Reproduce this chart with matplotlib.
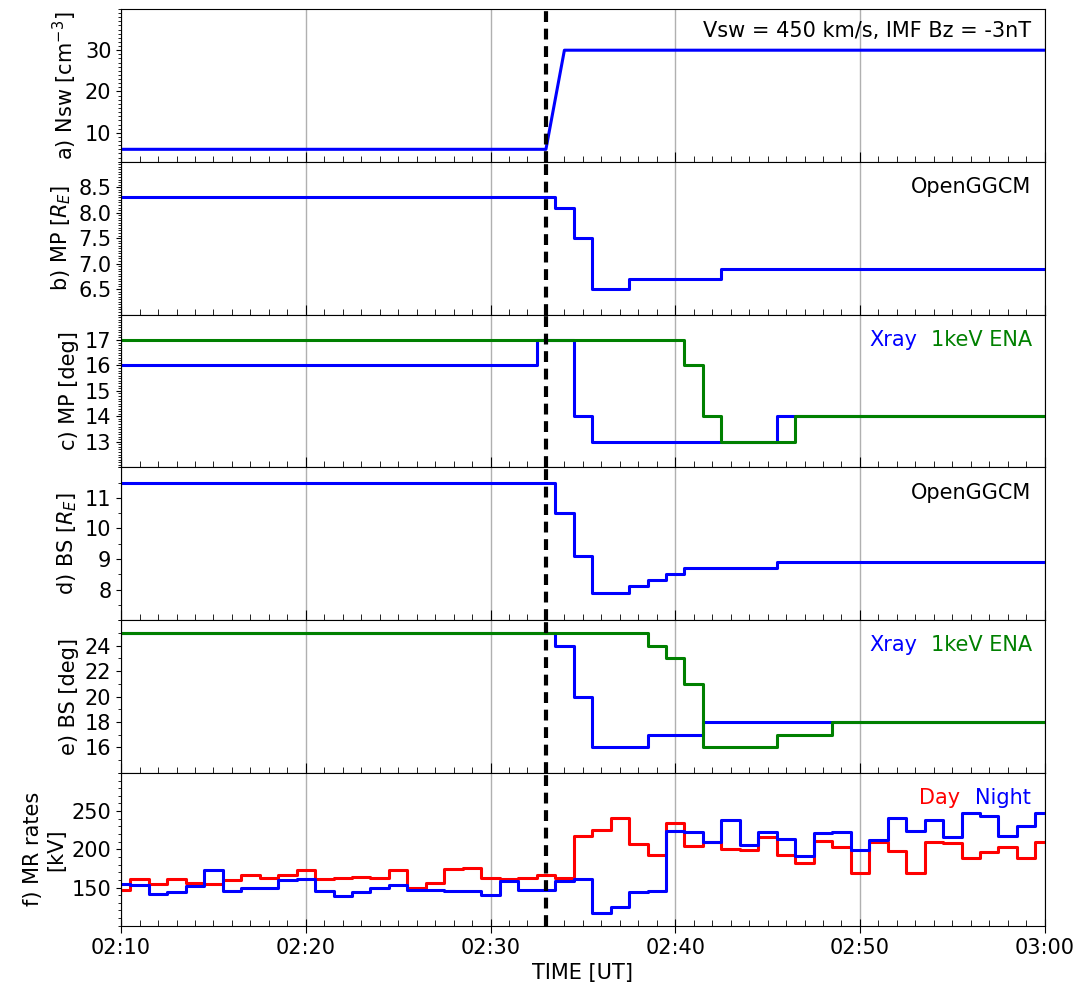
import matplotlib
matplotlib.use("Agg")
import matplotlib.pyplot as plt
import matplotlib.dates as mdates
from matplotlib.ticker import MultipleLocator
import pandas as pd

# one value per minute, 02:10 ... 03:00
times = pd.date_range("2000-01-01 02:10", "2000-01-01 03:00", freq="1min")

# a) solar wind density (linear ramp)
nsw_times = pd.to_datetime(["2000-01-01 02:10", "2000-01-01 02:33",
                            "2000-01-01 02:34", "2000-01-01 03:00"])
nsw_vals = [6, 6, 30, 30]

# b) magnetopause standoff, OpenGGCM [R_E]
mp_model = [8.3] * 24 + [8.1, 7.5, 6.5, 6.5] + [6.7] * 5 + [6.9] * 18

# c) magnetopause [deg]
mp_xray = [16] * 23 + [17, 17, 14] + [13] * 10 + [14] * 15
mp_ena = [17] * 31 + [16, 14] + [13] * 4 + [14] * 14

# d) bow shock standoff, OpenGGCM [R_E]
bs_model = [11.5] * 24 + [10.5, 9.1, 7.9, 7.9, 8.1, 8.3, 8.5] + [8.7] * 5 + [8.9] * 15

# e) bow shock [deg]
bs_xray = [25] * 24 + [24, 20] + [16] * 3 + [17] * 3 + [18] * 19
bs_ena = [25] * 29 + [24, 23, 21] + [16] * 4 + [17] * 3 + [18] * 12

# f) reconnection rates [kV]
mr_day = [147, 161, 154, 161, 156, 155, 160, 166, 163, 166,
          173, 161, 163, 164, 163, 173, 150, 156, 174, 176,
          162, 161, 163, 167, 163, 218, 225, 241, 207, 193,
          234, 204, 210, 201, 199, 216, 193, 182, 211, 203,
          169, 210, 198, 169, 209, 208, 188, 196, 203, 188, 210]
mr_night = [155, 153, 141, 144, 152, 173, 146, 150, 150, 160,
            161, 145, 139, 144, 150, 153, 147, 147, 146, 146,
            140, 158, 147, 147, 159, 161, 117, 125, 144, 145,
            224, 223, 210, 238, 206, 223, 213, 191, 221, 223,
            199, 212, 241, 224, 238, 216, 247, 244, 217, 231, 248]

onset = pd.Timestamp("2000-01-01 02:33")

plt.rcParams["font.size"] = 15

fig, axes = plt.subplots(6, 1, figsize=(10.91, 9.89), dpi=100, sharex=True)
fig.subplots_adjust(left=0.111, right=0.9575, top=0.991, bottom=0.064, hspace=0)

lw = 2.2
ty = 0.90  # annotation height in axes coords

ax = axes[0]
ax.plot(nsw_times, nsw_vals, color="blue", lw=lw)
ax.set_ylim(3, 40)
ax.set_yticks([10, 20, 30])
ax.yaxis.set_minor_locator(MultipleLocator(1))
ax.set_ylabel("a) Nsw [cm$^{-3}$]")
ax.text(0.985, 0.92, "Vsw = 450 km/s, IMF Bz = -3nT", transform=ax.transAxes,
        ha="right", va="top")

ax = axes[1]
ax.plot(times, mp_model, color="blue", lw=lw, drawstyle="steps-mid")
ax.set_ylim(6, 9)
ax.set_yticks([6.5, 7.0, 7.5, 8.0, 8.5])
ax.yaxis.set_minor_locator(MultipleLocator(0.05))
ax.set_ylabel("b) MP [$R_E$]")
ax.text(0.985, ty, "OpenGGCM", transform=ax.transAxes, ha="right", va="top")

ax = axes[2]
ax.plot(times, mp_xray, color="blue", lw=lw, drawstyle="steps-mid")
ax.plot(times, mp_ena, color="green", lw=lw, drawstyle="steps-mid")
ax.set_ylim(12, 18)
ax.set_yticks([13, 14, 15, 16, 17])
ax.yaxis.set_minor_locator(MultipleLocator(0.1))
ax.set_ylabel("c) MP [deg]")
ax.text(0.862, ty, "Xray", color="blue", transform=ax.transAxes, ha="right", va="top")
ax.text(0.986, ty, "1keV ENA", color="green", transform=ax.transAxes, ha="right", va="top")

ax = axes[3]
ax.plot(times, bs_model, color="blue", lw=lw, drawstyle="steps-mid")
ax.set_ylim(7, 12)
ax.set_yticks([8, 9, 10, 11])
ax.yaxis.set_minor_locator(MultipleLocator(0.5))
ax.set_ylabel("d) BS [$R_E$]")
ax.text(0.985, ty, "OpenGGCM", transform=ax.transAxes, ha="right", va="top")

ax = axes[4]
ax.plot(times, bs_xray, color="blue", lw=lw, drawstyle="steps-mid")
ax.plot(times, bs_ena, color="green", lw=lw, drawstyle="steps-mid")
ax.set_ylim(14, 26)
ax.set_yticks([16, 18, 20, 22, 24])
ax.yaxis.set_minor_locator(MultipleLocator(1))
ax.set_ylabel("e) BS [deg]")
ax.text(0.862, ty, "Xray", color="blue", transform=ax.transAxes, ha="right", va="top")
ax.text(0.986, ty, "1keV ENA", color="green", transform=ax.transAxes, ha="right", va="top")

ax = axes[5]
ax.plot(times, mr_day, color="red", lw=lw, drawstyle="steps-mid")
ax.plot(times, mr_night, color="blue", lw=lw, drawstyle="steps-mid")
ax.set_ylim(100, 300)
ax.set_yticks([150, 200, 250])
ax.yaxis.set_minor_locator(MultipleLocator(10))
ax.set_ylabel("f) MR rates\n[kV]")
ax.text(0.909, ty, "Day", color="red", transform=ax.transAxes, ha="right", va="top")
ax.text(0.985, ty, "Night", color="blue", transform=ax.transAxes, ha="right", va="top")
ax.set_xlabel("TIME [UT]")

for ax in axes:
    ax.axvline(onset, color="black", lw=3, linestyle=(0, (2.6, 1.6)), zorder=5)
    ax.grid(axis="x", which="major", color="#b0b0b0", lw=1)
    ax.tick_params(axis="x", which="major", direction="in", length=7)
    ax.tick_params(axis="x", which="minor", direction="in", length=4)
    ax.tick_params(axis="y", which="minor", length=2.5)

axes[5].tick_params(axis="x", which="major", direction="inout", length=10)
axes[5].set_xlim(times[0], times[-1])
axes[5].xaxis.set_major_locator(mdates.MinuteLocator(byminute=range(0, 60, 10)))
axes[5].xaxis.set_minor_locator(mdates.MinuteLocator())
axes[5].xaxis.set_major_formatter(mdates.DateFormatter("%H:%M"))

fig.savefig("out.png", dpi=100)
